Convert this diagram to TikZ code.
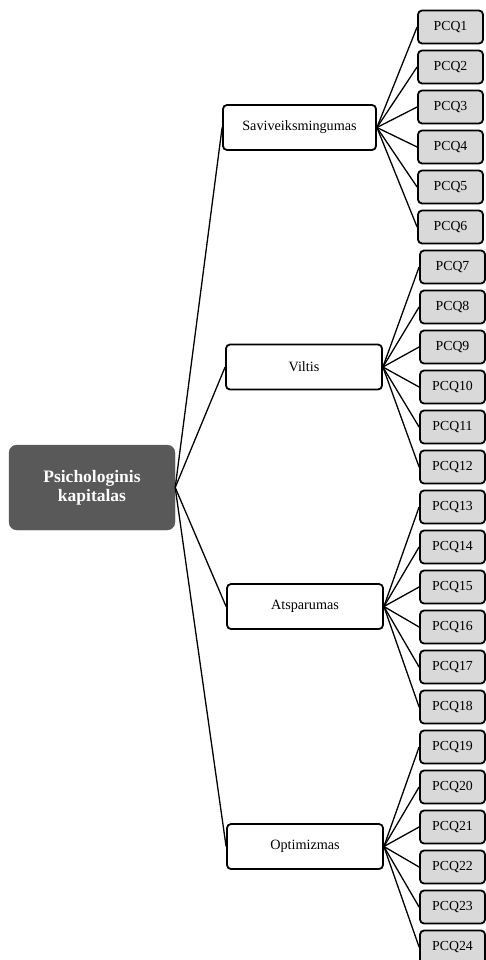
\documentclass[tikz,border=0pt]{standalone}
\usepackage{fontspec}
\setmainfont{Liberation Serif}
\definecolor{rootgray}{HTML}{595959}
\definecolor{leafgray}{HTML}{D9D9D9}
\begin{document}
\begin{tikzpicture}[x=1pt,y=-1pt,
  rootbox/.style={draw=rootgray,fill=rootgray,rounded corners=8pt,minimum width=166pt,minimum height=85pt,
    text=white,font=\fontsize{17.5}{19}\selectfont\bfseries,align=center,inner sep=0pt},
  midbox/.style={draw=black,line width=1.8pt,fill=white,rounded corners=4pt,minimum height=45pt,
    font=\fontsize{14.2}{16}\selectfont,inner sep=0pt},
  leafbox/.style={draw=black,line width=1.8pt,fill=leafgray,rounded corners=4pt,minimum width=65pt,minimum height=33pt,
    font=\fontsize{13.8}{15}\selectfont,inner sep=0pt},
  link/.style={draw=black,line width=1.3pt}]
\useasboundingbox (0,0) rectangle (486,960);

% root
\node[rootbox] (root) at (92,487.5) {Psichologinis\\kapitalas};

% second level
\node[midbox,minimum width=153pt] (m1) at (299.5,127.5) {Saviveiksmingumas};
\node[midbox,minimum width=156pt] (m2) at (304,367) {Viltis};
\node[midbox,minimum width=156pt] (m3) at (305,606.5) {Atsparumas};
\node[midbox,minimum width=156pt] (m4) at (305,846.5) {Optimizmas};

% leaves
\foreach \i in {1,...,24}{
  \pgfmathsetmacro{\yy}{27+40*(\i-1)}
  \pgfmathsetmacro{\xx}{\i<7 ? 450.5 : 452.5}
  \node[leafbox] (q\i) at (\xx,\yy) {PCQ\i};
}

% connectors
\begin{scope}[on background layer/.try]
\foreach \m in {1,...,4}{
  \draw[link] (root.east) -- (m\m.west);
}
\foreach \i in {1,...,6}{\draw[link] (m1.east) -- (q\i.west);}
\foreach \i in {7,...,12}{\draw[link] (m2.east) -- (q\i.west);}
\foreach \i in {13,...,18}{\draw[link] (m3.east) -- (q\i.west);}
\foreach \i in {19,...,24}{\draw[link] (m4.east) -- (q\i.west);}
\end{scope}
\end{tikzpicture}
\end{document}
